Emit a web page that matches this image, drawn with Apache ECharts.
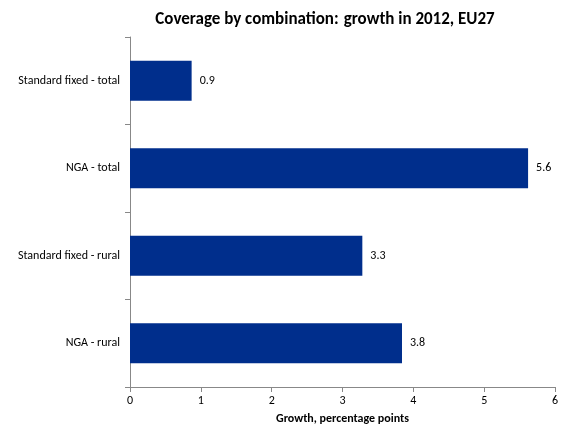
<!DOCTYPE html>
<html><head><meta charset="utf-8">
<script src="https://cdn.jsdelivr.net/npm/echarts@6/dist/echarts.min.js"></script>
<style>html,body{margin:0;padding:0;background:#fff}#c{width:567px;height:443px}</style>
</head><body><div id="c"></div>
<script>
const categories = ["Standard fixed - total", "NGA - total", "Standard fixed - rural", "NGA - rural"];
const values = [0.87, 5.62, 3.28, 3.84];
const xTicks = [0, 1, 2, 3, 4, 5, 6];
const chart = echarts.init(document.getElementById('c'));
chart.setOption({
  animation: false,
  title: {
    text: '{b|Coverage by combination:} {n|growth in 2012, EU27}',
    left: 320, top: 6, textAlign: 'center',
    textStyle: { rich: {
      b: { fontFamily: 'Carlito, Liberation Sans, sans-serif', fontSize: 17, fontWeight: 'bold', color: '#000' },
      n: { fontFamily: 'Carlito, Liberation Sans, sans-serif', fontSize: 17, color: '#000' }
    } }
  },
  grid: { left: 130, right: 12, top: 37, bottom: 56 },
  xAxis: {
    type: 'value', min: xTicks[0], max: xTicks[xTicks.length - 1], interval: 1,
    name: 'Growth, percentage points', nameLocation: 'middle', nameGap: 26,
    nameTextStyle: { fontFamily: 'Carlito, Liberation Sans, sans-serif', fontSize: 12, fontWeight: 'bold', color: '#000' },
    axisLine: { show: true, lineStyle: { color: '#888' } },
    axisTick: { show: true, lineStyle: { color: '#888' }, length: 5 },
    splitLine: { show: false },
    axisLabel: { fontFamily: 'Carlito, Liberation Sans, sans-serif', fontSize: 12, color: '#000' }
  },
  yAxis: {
    type: 'category', data: categories, inverse: true,
    axisLine: { lineStyle: { color: '#888' } },
    axisTick: { show: true, length: 5, lineStyle: { color: '#888' } },
    axisLabel: { fontFamily: 'Carlito, Liberation Sans, sans-serif', fontSize: 12, color: '#000', margin: 10 }
  },
  series: [{
    type: 'bar', data: values, barWidth: 40,
    itemStyle: { color: '#002e8c' },
    label: { show: true, position: 'right', distance: 8, formatter: p => p.value.toFixed(1),
      fontFamily: 'Carlito, Liberation Sans, sans-serif', fontSize: 12, color: '#000' }
  }]
});
</script></body></html>
